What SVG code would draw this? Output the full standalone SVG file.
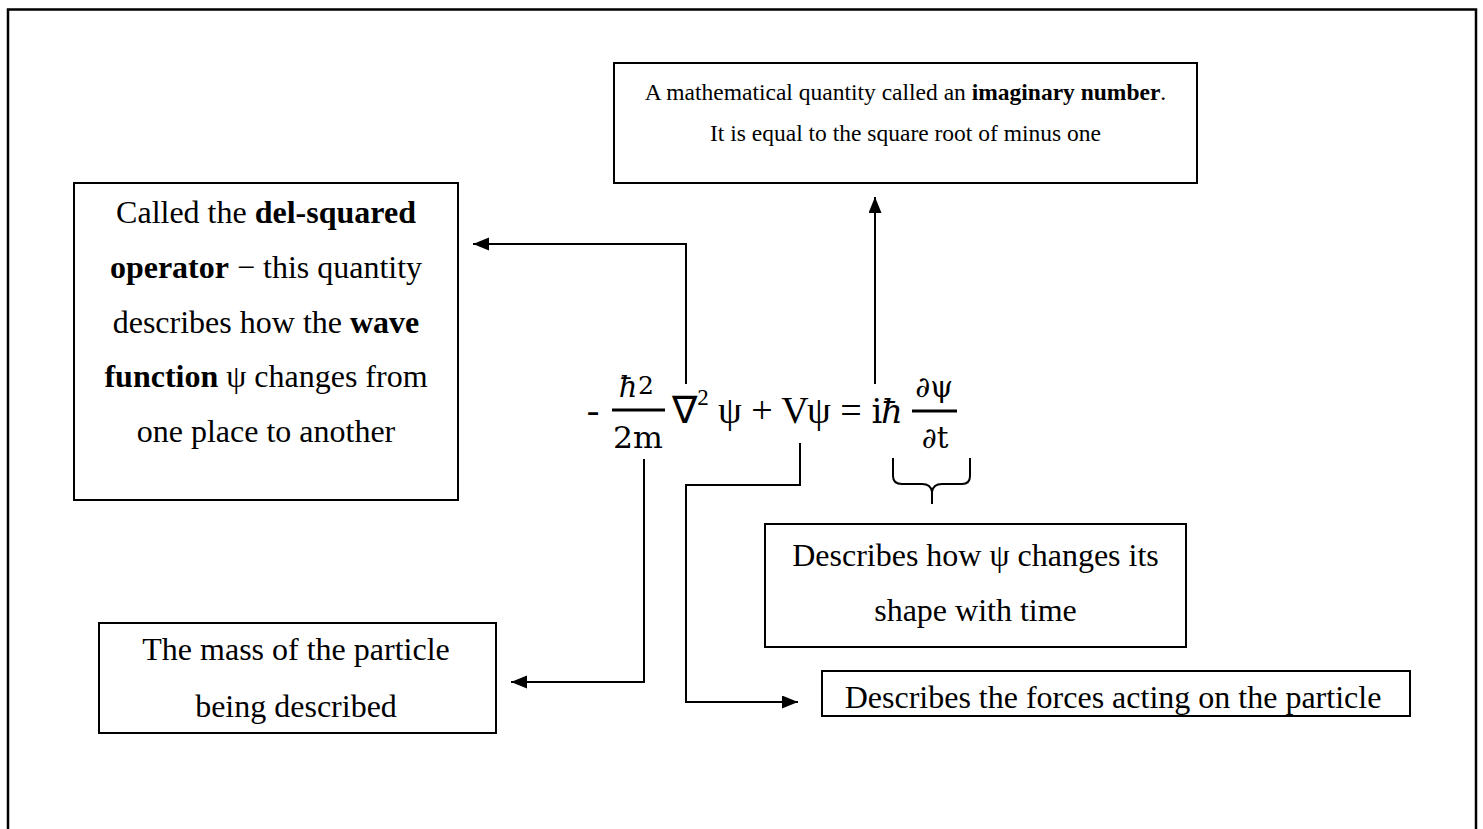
<svg xmlns="http://www.w3.org/2000/svg" width="1483" height="829" viewBox="0 0 1483 829">
  <style>
    .box { fill: #ffffff; stroke: #000000; stroke-width: 2; }
    .t { font-family: "Liberation Serif", "Times New Roman", serif; font-size: 32px; fill: #000000; text-anchor: middle; }
    .t2 { font-family: "Liberation Serif", "Times New Roman", serif; font-size: 23.5px; fill: #000000; text-anchor: middle; }
    .b { font-weight: bold; }
    .eq { font-family: "DejaVu Serif", "Liberation Serif", serif; font-size: 34px; fill: #000000; text-anchor: middle; }
    .eqs { font-family: "DejaVu Serif", "Liberation Serif", serif; font-size: 29px; fill: #000000; text-anchor: middle; }
    .eqr { font-family: "Liberation Serif", "Times New Roman", serif; font-size: 38px; fill: #000000; text-anchor: middle; }
    .sup { font-family: "Liberation Serif", "Times New Roman", serif; font-size: 23px; fill: #000000; text-anchor: middle; }
    .it { font-style: italic; }
    .conn { fill: none; stroke: #000000; stroke-width: 2; }
  </style>
  <defs>
    <marker id="arrow" markerUnits="userSpaceOnUse" markerWidth="17" markerHeight="14" refX="16" refY="6.5" orient="auto">
      <path d="M0,0 L16,6.5 L0,13 Z" fill="#000000"/>
    </marker>
  </defs>
  <rect x="0" y="0" width="1483" height="829" fill="#ffffff"/>
  <rect x="8" y="9.5" width="1468" height="900" fill="none" stroke="#000000" stroke-width="2.5"/>

  <g id="node-imaginary">
    <rect class="box" x="614" y="63" width="583" height="120"/>
    <text class="t2" x="905.5" y="100">A mathematical quantity called an <tspan class="b">imaginary number</tspan>.</text>
    <text class="t2" x="905.5" y="141">It is equal to the square root of minus one</text>
  </g>

  <g id="node-delsquared">
    <rect class="box" x="74" y="183" width="384" height="317"/>
    <text class="t" x="266" y="223">Called the <tspan class="b">del-squared</tspan></text>
    <text class="t" x="266" y="278"><tspan class="b">operator</tspan> − this quantity</text>
    <text class="t" x="266" y="333">describes how the <tspan class="b">wave</tspan></text>
    <text class="t" x="266" y="387"><tspan class="b">function</tspan> ψ changes from</text>
    <text class="t" x="266" y="442">one place to another</text>
  </g>

  <g id="node-mass">
    <rect class="box" x="99" y="623" width="397" height="110"/>
    <text class="t" x="296" y="660">The mass of the particle</text>
    <text class="t" x="296" y="717">being described</text>
  </g>

  <g id="node-time">
    <rect class="box" x="765" y="524" width="421" height="123"/>
    <text class="t" x="975.5" y="566">Describes how ψ changes its</text>
    <text class="t" x="975.5" y="621">shape with time</text>
  </g>

  <g id="node-forces">
    <rect class="box" x="822" y="671" width="588" height="45"/>
    <text class="t" x="1113" y="708">Describes the forces acting on the particle</text>
  </g>

  <g id="equation">
    <text class="eqr" x="593" y="423">-</text>
    <text class="eqs it" x="628" y="397">ħ</text>
    <text class="eqs" x="646" y="394" style="font-size:25px">2</text>
    <line x1="612" y1="410" x2="665" y2="410" stroke="#000000" stroke-width="3"/>
    <text class="eqs" x="638" y="448" textLength="50" lengthAdjust="spacingAndGlyphs">2m</text>
    <text class="eqr" x="684" y="423">∇</text>
    <text class="sup" x="703" y="405">2</text>
    <text class="eqr" x="730" y="423">ψ</text>
    <text class="eqr" x="762" y="423">+</text>
    <text class="eqr" x="795" y="423">V</text>
    <text class="eqr" x="819" y="423">ψ</text>
    <text class="eqr" x="851" y="423">=</text>
    <text class="eq" x="877" y="423">i</text>
    <text class="eq it" x="892" y="423">ħ</text>
    <text class="eqs" x="934" y="397"><tspan class="it">∂</tspan>ψ</text>
    <line x1="912" y1="411" x2="957" y2="411" stroke="#000000" stroke-width="3"/>
    <text class="eqs" x="935" y="448"><tspan class="it">∂</tspan>t</text>
  </g>

  <g id="connectors">
    <polyline class="conn" points="686,384 686,244 473,244" marker-end="url(#arrow)"/>
    <polyline class="conn" points="875,384 875,197" marker-end="url(#arrow)"/>
    <polyline class="conn" points="644,459 644,682 511,682" marker-end="url(#arrow)"/>
    <polyline class="conn" points="800,443 800,485 686,485 686,702 798,702" marker-end="url(#arrow)"/>
    <path class="conn" d="M893,458 L893,476 Q893,484 902,484 L922,484 Q931,484 932,492 Q933,484 942,484 L962,484 Q970,484 970,476 L970,458 M932,490 L932,504"/>
  </g>
</svg>
